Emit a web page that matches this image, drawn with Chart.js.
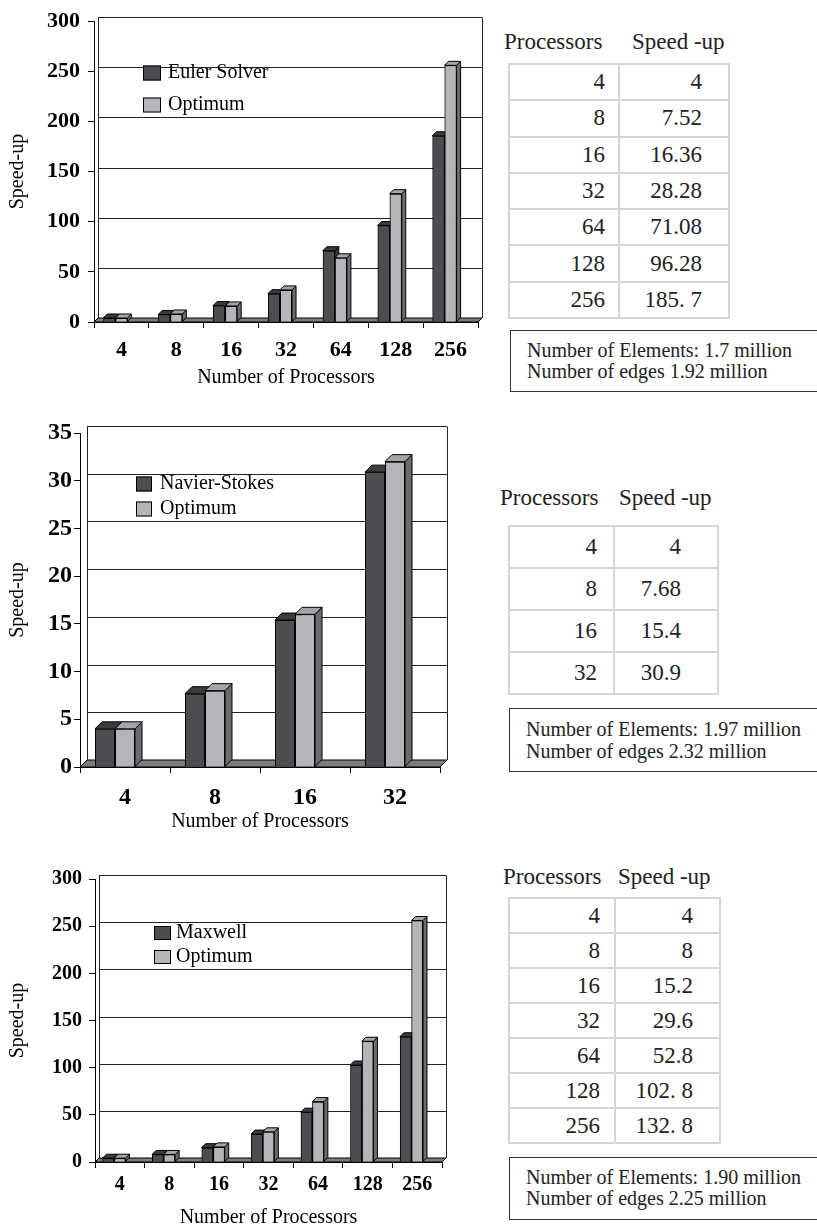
<!DOCTYPE html>
<html lang="en">
<head>
<meta charset="UTF-8">
<title>Speed-up</title>
<script src="https://cdn.jsdelivr.net/npm/chart.js"></script>
<style>
    body {
        margin: 0;
        width: 817px;
        height: 1228px;
        position: relative;
        overflow: hidden;
        background: #fff;
        font-family: "Liberation Serif", "Times New Roman", serif;
        color: #222;
    }
    canvas { position: absolute; left: 0; }
    .head { position: absolute; font-size: 23px; line-height: 24px; white-space: nowrap; }
    table.speed {
        position: absolute;
        border-collapse: collapse;
        table-layout: fixed;
        font-family: "Liberation Serif", "Times New Roman", serif;
        font-size: 23px;
    }
    table.speed td {
        border: 2px solid #d6d6d6;
        text-align: right;
        padding: 0;
        vertical-align: middle;
        box-sizing: border-box;
    }
    .info {
        position: absolute;
        width: 330px;
        border: 1.5px solid #333;
        padding: 9px 0 0 16px;
        box-sizing: border-box;
        font-size: 20px;
        white-space: nowrap;
    }
</style>
</head>
<body>
<canvas id="eulerChart" width="490" height="395" style="top:0px"></canvas>
<canvas id="navierChart" width="490" height="435" style="top:400px"></canvas>
<canvas id="maxwellChart" width="490" height="368" style="top:860px"></canvas>

<div class="head" style="left:504px; top:30px">Processors</div>
<div class="head" style="left:632px; top:30px">Speed -up</div>
<table class="speed" id="eulerTable" style="left:508px; top:63px; width:220px"></table>
<div class="info" id="eulerInfo" style="left:510px; top:330px; height:62px; line-height:21px"></div>

<div class="head" style="left:500px; top:486px">Processors</div>
<div class="head" style="left:619px; top:486px">Speed -up</div>
<table class="speed" id="navierTable" style="left:508px; top:525px; width:209px"></table>
<div class="info" id="navierInfo" style="left:509px; top:708px; height:64px; line-height:22px"></div>

<div class="head" style="left:503px; top:865px">Processors</div>
<div class="head" style="left:618px; top:865px">Speed -up</div>
<table class="speed" id="maxwellTable" style="left:508px; top:897px; width:211px"></table>
<div class="info" id="maxwellInfo" style="left:509px; top:1157px; height:63px; line-height:21px"></div>

<script>
    const procs7 = ['4', '8', '16', '32', '64', '128', '256'];
    const procs4 = ['4', '8', '16', '32'];

    const eulerSpeedup = [4, 7.52, 16.36, 28.28, 71.08, 96.28, 185.7];
    const navierSpeedup = [4, 7.68, 15.4, 30.9];
    const maxwellSpeedup = [4, 8, 15.2, 29.6, 52.8, 102.8, 132.8];
    const optimum7 = [4, 8, 16, 32, 64, 128, 256];
    const optimum4 = [4, 8, 16, 32];

    // speed-up column as printed in the tables
    const eulerTableText = ['4', '7.52', '16.36', '28.28', '71.08', '96.28', '185. 7'];
    const navierTableText = ['4', '7.68', '15.4', '30.9'];
    const maxwellTableText = ['4', '8', '15.2', '29.6', '52.8', '102. 8', '132. 8'];

    const eulerMesh = ['Number of Elements: 1.7 million', 'Number of edges 1.92 million'];
    const navierMesh = ['Number of Elements: 1.97 million', 'Number of edges 2.32 million'];
    const maxwellMesh = ['Number of Elements: 1.90 million', 'Number of edges 2.25 million'];

    Chart.defaults.font.family = '"Liberation Serif", "Times New Roman", serif';
    Chart.defaults.color = '#000';

    function poly(ctx, pts, fill) {
        ctx.beginPath();
        ctx.moveTo(pts[0][0], pts[0][1]);
        pts.slice(1).forEach(p => ctx.lineTo(p[0], p[1]));
        ctx.closePath();
        ctx.fillStyle = fill;
        ctx.fill();
        ctx.stroke();
    }

    // fake 3D: back wall, floor, and top/side faces of the bars
    const bars3d = {
        id: 'bars3d',
        beforeDatasetsDraw(chart, args, opts) {
            const {ctx, chartArea: a, scales: {y}} = chart;
            const d = opts.depth;
            ctx.save();
            ctx.strokeStyle = opts.grid;
            ctx.lineWidth = 1;
            y.ticks.forEach(t => {
                if (t.value === 0) return;
                const py = Math.round(y.getPixelForValue(t.value) - d) + 0.5;
                ctx.beginPath();
                ctx.moveTo(a.left + d, py);
                ctx.lineTo(a.right + d, py);
                ctx.stroke();
            });
            const top = Math.round(a.top - d) + 0.5;
            [a.left + d, a.right + d].forEach(x => {
                ctx.beginPath();
                ctx.moveTo(Math.round(x) + 0.5, top);
                ctx.lineTo(Math.round(x) + 0.5, a.bottom - d);
                ctx.stroke();
            });
            ctx.strokeStyle = '#000';
            poly(ctx, [[a.left, a.bottom], [a.left + d, a.bottom - d], [a.right + d, a.bottom - d], [a.right, a.bottom]], opts.floor);
            ctx.restore();
        },
        afterDatasetsDraw(chart, args, opts) {
            const ctx = chart.ctx;
            const d = opts.depth;
            ctx.save();
            ctx.strokeStyle = '#000';
            ctx.lineWidth = 1;
            chart.data.labels.forEach((lab, i) => {
                chart.data.datasets.forEach((ds, k) => {
                    const el = chart.getDatasetMeta(k).data[i];
                    if (!el || ds.data[i] == null) return;
                    const {x, y, base, width} = el.getProps(['x', 'y', 'base', 'width'], true);
                    const l = x - width / 2, r = x + width / 2;
                    poly(ctx, [[r, y], [r + d, y - d], [r + d, base - d], [r, base]], opts.side[k]);
                    poly(ctx, [[l, y], [l + d, y - d], [r + d, y - d], [r, y]], opts.top[k]);
                    el.draw(ctx, chart.chartArea);
                });
            });
            ctx.restore();
        }
    };

    // legend drawn inside the plot area
    const insideLegend = {
        id: 'insideLegend',
        afterDraw(chart, args, opts) {
            const ctx = chart.ctx;
            ctx.save();
            ctx.font = '20px "Liberation Serif", "Times New Roman", serif';
            ctx.textBaseline = 'middle';
            ctx.lineWidth = 1;
            chart.data.datasets.forEach((ds, i) => {
                if (!ds.label) return;
                const y = opts.y + i * opts.gap;
                ctx.fillStyle = ds.backgroundColor;
                ctx.fillRect(opts.x, y - opts.h / 2, opts.w, opts.h);
                ctx.strokeStyle = '#000';
                ctx.strokeRect(opts.x + 0.5, y - opts.h / 2 + 0.5, opts.w - 1, opts.h - 1);
                ctx.fillStyle = '#000';
                ctx.fillText(ds.label, opts.x + opts.w + opts.pad, y);
            });
            ctx.restore();
        }
    };

    function speedChart(id, labels, series, name, optimum, o) {
        return new Chart(document.getElementById(id), {
            type: 'bar',
            data: {
                labels: labels,
                datasets: [
                    { label: name, data: series, backgroundColor: '#4d4d51' },
                    { label: 'Optimum', data: optimum, backgroundColor: '#b5b5b9' },
                    { label: '', data: [] } // empty slot = room for the 3D depth
                ]
            },
            options: {
                responsive: false,
                animation: false,
                layout: { padding: o.pad },
                datasets: {
                    bar: { borderColor: '#000', borderWidth: 1, barPercentage: 1, categoryPercentage: o.cat }
                },
                plugins: {
                    legend: { display: false },
                    tooltip: { enabled: false },
                    bars3d: { depth: o.depth, top: ['#3c3c3f', '#a6a6aa'], side: ['#333336', '#6c6c70'], floor: '#7d7d7d', grid: '#222' },
                    insideLegend: o.legend
                },
                scales: {
                    x: {
                        grid: { offset: true, drawOnChartArea: false, tickLength: 6, color: '#000' },
                        border: { color: '#000' },
                        ticks: { font: { size: o.tick, weight: 'bold' }, color: '#000', padding: o.xpad, maxRotation: 0 },
                        title: { display: true, text: 'Number of Processors', font: { size: 20, lineHeight: 1 }, color: '#000', padding: 0 },
                        afterFit: s => { s.height = o.xh; }
                    },
                    y: {
                        min: 0,
                        max: o.max,
                        ticks: { stepSize: o.step, font: { size: o.tick, weight: 'bold' }, color: '#000', padding: o.ypad },
                        grid: { drawOnChartArea: false, tickLength: 6, color: '#000' },
                        border: { color: '#000' },
                        title: { display: true, text: 'Speed-up', font: { size: 20, lineHeight: 1 }, color: '#000', padding: { top: 8, bottom: 0 } },
                        afterFit: s => { s.width = o.yw; }
                    }
                }
            },
            plugins: [bars3d, insideLegend]
        });
    }

    function speedTable(id, procs, speeds, t) {
        const table = document.getElementById(id);
        procs.forEach((p, i) => {
            const tr = document.createElement('tr');
            tr.style.height = t.rowH + 'px';
            const c1 = document.createElement('td');
            c1.textContent = p;
            c1.style.width = t.w1 + 'px';
            c1.style.paddingRight = t.pad1 + 'px';
            const c2 = document.createElement('td');
            c2.textContent = speeds[i];
            c2.style.width = t.w2 + 'px';
            c2.style.paddingRight = t.pad2 + 'px';
            tr.appendChild(c1);
            tr.appendChild(c2);
            table.appendChild(tr);
        });
    }

    function meshBox(id, lines) {
        document.getElementById(id).innerHTML = lines.join('<br>');
    }

    speedChart('eulerChart', procs7, eulerSpeedup, 'Euler Solver', optimum7, {
        pad: { left: 0, top: 16, right: 12, bottom: 7 }, yw: 94, xh: 66,
        cat: 0.66, depth: 4, max: 300, step: 50, tick: 22, xpad: 9, ypad: 8,
        legend: { x: 143, y: 73, gap: 32, w: 18, h: 15, pad: 7 }
    });
    speedChart('navierChart', procs4, navierSpeedup, 'Navier-Stokes', optimum4, {
        pad: { left: 0, top: 33, right: 50, bottom: 3 }, yw: 80, xh: 65,
        cat: 0.667, depth: 7, max: 35, step: 5, tick: 24, xpad: 10, ypad: 2,
        legend: { x: 136, y: 84, gap: 25, w: 16, h: 15, pad: 8 }
    });
    speedChart('maxwellChart', procs7, maxwellSpeedup, 'Maxwell', optimum7, {
        pad: { left: 0, top: 19, right: 48, bottom: 0 }, yw: 95, xh: 66,
        cat: 0.70, depth: 4, max: 300, step: 50, tick: 20, xpad: 5, ypad: 7,
        legend: { x: 154, y: 73, gap: 24, w: 17, h: 14, pad: 5 }
    });

    speedTable('eulerTable', procs7, eulerTableText, { rowH: 36.3, w1: 110, w2: 110, pad1: 13, pad2: 26 });
    speedTable('navierTable', procs4, navierTableText, { rowH: 42, w1: 105, w2: 104, pad1: 16, pad2: 36 });
    speedTable('maxwellTable', procs7, maxwellTableText, { rowH: 35, w1: 106, w2: 105, pad1: 14, pad2: 26 });

    meshBox('eulerInfo', eulerMesh);
    meshBox('navierInfo', navierMesh);
    meshBox('maxwellInfo', maxwellMesh);
</script>
</body>
</html>
